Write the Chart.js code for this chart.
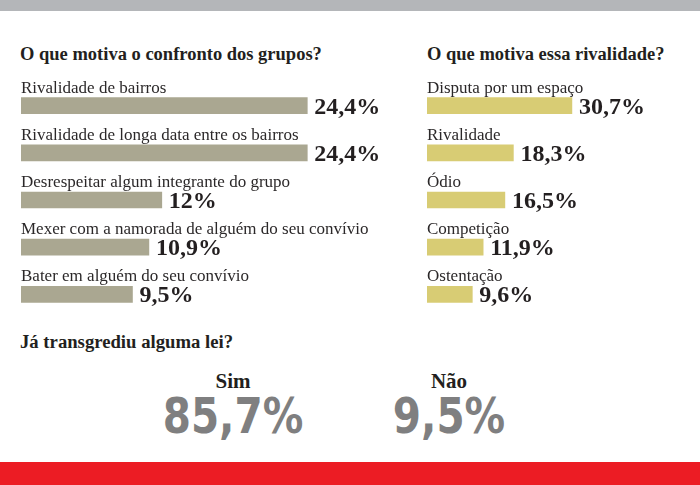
<!DOCTYPE html>
<html>
<head>
<meta charset="utf-8">
<script src="https://cdn.jsdelivr.net/npm/chart.js@4"></script>
<style>
  html, body { margin: 0; padding: 0; background: #fff; }
  #page { position: relative; width: 700px; height: 485px; overflow: hidden; font-family: "Liberation Serif", serif; color: #231f20; }
  #topbar { position: absolute; left: 0; top: 0; width: 700px; height: 11px; background: #b4b6b9; }
  #bottombar { position: absolute; left: 0; top: 462px; width: 700px; height: 23px; background: #ec1c24; }
  .title { position: absolute; font-weight: bold; font-size: 18.5px; white-space: nowrap; }
  .box { position: absolute; }
  .ans { position: absolute; text-align: center; width: 200px; }
  .ans .lbl { font-weight: bold; font-size: 21px; line-height: 22px; }
  .ans .val { font-family: "DejaVu Sans Condensed", "DejaVu Sans", sans-serif; font-weight: bold; font-size: 50px; line-height: 48px; color: #7f7f80; transform: scaleX(0.9); }
</style>
</head>
<body>
<div id="page">
  <div id="topbar"></div>
  <div class="title" style="left:20px; top:44px;">O que motiva o confronto dos grupos?</div>
  <div class="title" style="left:427px; top:44px;">O que motiva essa rivalidade?</div>
  <div class="box" style="left:21px; top:62px; width:432px; height:256px;"><canvas id="graficoConfronto"></canvas></div>
  <div class="box" style="left:427px; top:62px; width:316px; height:256px;"><canvas id="graficoRivalidade"></canvas></div>
  <div class="title" style="left:20px; top:331px; font-size:18.7px;">Já transgrediu alguma lei?</div>
  <div id="respostas"></div>
  <div id="bottombar"></div>
</div>
<script>
const motivosConfronto = [
  "Rivalidade de bairros",
  "Rivalidade de longa data entre os bairros",
  "Desrespeitar algum integrante do grupo",
  "Mexer com a namorada de alguém do seu convívio",
  "Bater em alguém do seu convívio"
];
const notasConfronto = [24.4, 24.4, 12, 10.9, 9.5];

const motivosRivalidade = [
  "Disputa por um espaço",
  "Rivalidade",
  "Ódio",
  "Competição",
  "Ostentação"
];
const notasRivalidade = [30.7, 18.3, 16.5, 11.9, 9.6];

const respostas = ["Sim", "Não"];
const notasRespostas = [85.7, 9.5];

function fmt(v) {
  return String(v).replace('.', ',') + '%';
}

// draws category names above each bar and the value at its end
const rotulos = {
  id: 'rotulos',
  afterDatasetsDraw(chart) {
    const ctx = chart.ctx;
    const meta = chart.getDatasetMeta(0);
    ctx.save();
    meta.data.forEach((bar, i) => {
      const top = bar.y - bar.height / 2;
      const bottom = bar.y + bar.height / 2;
      ctx.fillStyle = '#2b2829';
      ctx.font = '17px "Liberation Serif", serif';
      ctx.textAlign = 'left';
      ctx.textBaseline = 'alphabetic';
      ctx.fillText(chart.data.labels[i], bar.base, top - 5);
      ctx.fillStyle = '#231f20';
      ctx.font = 'bold 24px "Liberation Serif", serif';
      ctx.fillText(fmt(chart.data.datasets[0].data[i]), bar.x + 7, bottom);
    });
    ctx.restore();
  }
};

function grafico(id, labels, data, cor, max, extra) {
  return new Chart(document.getElementById(id), {
    type: 'bar',
    data: {
      labels: labels,
      datasets: [{
        data: data,
        backgroundColor: cor,
        barThickness: 16,
        borderWidth: 0
      }]
    },
    options: {
      indexAxis: 'y',
      responsive: true,
      maintainAspectRatio: false,
      animation: false,
      layout: { padding: { top: 20, left: 0, right: extra, bottom: 0 } },
      plugins: { legend: { display: false }, tooltip: { enabled: false } },
      scales: {
        x: { display: false, min: 0, max: max },
        y: { display: false }
      }
    },
    plugins: [rotulos]
  });
}

grafico('graficoConfronto', motivosConfronto, notasConfronto, '#aaa791', 30, 80);
grafico('graficoRivalidade', motivosRivalidade, notasRivalidade, '#d8cc74', 50, 80);

const centros = [233, 449];
const cont = document.getElementById('respostas');
respostas.forEach((r, i) => {
  const d = document.createElement('div');
  d.className = 'ans';
  d.style.left = (centros[i] - 100) + 'px';
  d.style.top = '370px';
  d.innerHTML = '<div class="lbl">' + r + '</div><div class="val">' + fmt(notasRespostas[i]) + '</div>';
  cont.appendChild(d);
});
</script>
</body>
</html>
